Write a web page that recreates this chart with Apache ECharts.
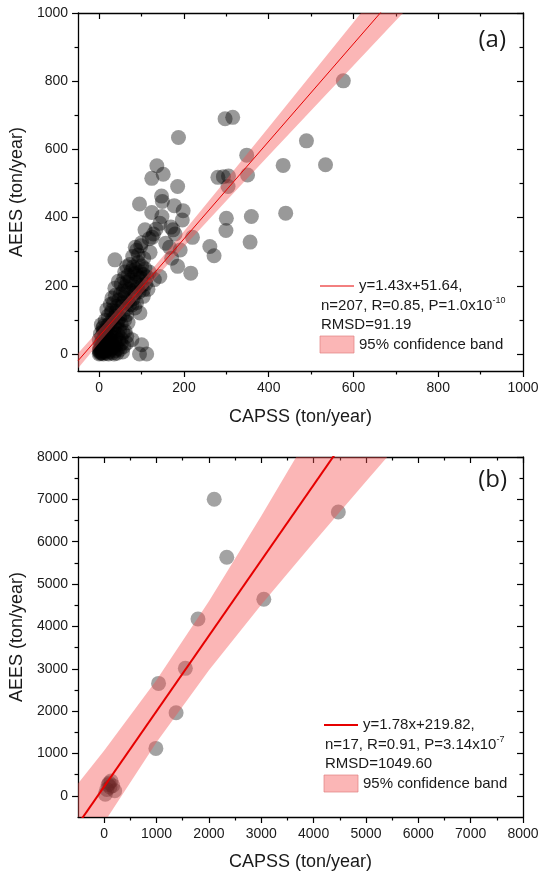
<!DOCTYPE html>
<html><head><meta charset="utf-8">
<script src="https://cdn.jsdelivr.net/npm/echarts@6/dist/echarts.min.js"></script>
<style>html,body{margin:0;padding:0;background:#fff}#c{width:543px;height:874px}</style>
</head><body><div id="c"></div>
<script>
// ---------- Panel (a) data ----------
const capssA = [576,297,315,187,489,348,434,534,136,151,124,185,280,293,305,304,350,147,149,95,177,198,124,148,300,359,440,196,299,356,108,134,169,174,125,157,166,220,261,271,191,171,185,216,120,85,98,37,79,143,130,95,112,100,5,
128,118,143,179,100,88,
72,80,86,92,96,100,104,108,84,76,90,112,118,65,98,
45,52,58,62,66,70,73,78,82,86,90,94,100,104,110,57,68,85,104,115,
30,34,38,42,46,50,53,56,60,64,68,72,77,80,84,88,96,37,26,62,
10,14,18,21,25,28,32,35,37,40,44,48,52,56,60,65,68,20,30,42,
0,3,6,8,11,14,17,20,23,26,30,34,37,40,44,48,52,56,61,77,65,10,28,46,
0,0,1,2,3,4,5,6,7,8,9,10,11,12,13,14,15,16,18,19,20,22,22,24,26,28,30,32,34,36,38,40,42,45,49,52,55,58,65,35,2,6,1,17,
92,105,60];
const aeesA = [801,690,694,635,625,583,553,555,552,527,515,491,518,520,522,491,525,463,447,440,435,420,415,403,398,403,413,393,362,328,364,366,372,364,342,325,313,342,315,288,305,281,257,237,298,313,317,276,286,227,218,0,0,27,86,
352,338,383,352,326,304,
262,255,248,268,240,258,233,250,236,244,228,226,240,256,222,
213,205,222,198,212,190,217,204,186,210,195,182,200,188,206,185,230,178,169,190,
164,150,172,140,158,176,139,150,165,132,155,145,144,162,135,150,120,193,145,178,
81,98,130,112,90,120,104,84,110,125,95,106,88,118,100,115,92,84,128,84,
42,60,52,75,46,66,55,72,44,62,50,66,78,48,58,70,45,62,66,42,52,68,40,40,
0,8,20,13,30,4,18,36,2,25,10,0,32,15,5,22,38,10,28,2,16,0,34,8,22,14,30,4,18,36,10,26,2,16,13,30,6,22,32,0,2,6,10,40,
290,280,240];
const slopeA = 1.43, interceptA = 51.64;
const fitXA = [-50, 720];
const bandXA = [-50, 0, 100, 200, 300, 400, 500, 600, 700, 760];
const bandLowA = [-42, 33, 177, 315, 449, 582, 714, 846, 978, 1056];
const bandHighA = [2, 71, 212, 360, 512, 665, 819, 973, 1127, 1217];
const xMajorA = [0, 200, 400, 600, 800, 1000];
const xMinorA = [100, 300, 500, 700, 900];
const yMajorA = [0, 200, 400, 600, 800, 1000];
const yMinorA = [100, 300, 500, 700, 900];

// ---------- Panel (b) data ----------
const capssB = [2101, 4472, 2341, 3049, 1791, 1550, 1038, 1373, 987, 20, 50, 75, 95, 110, 130, 160, 200];
const aeesB  = [7002, 6702, 5632, 4640, 4174, 3010, 2655, 1961, 1120, 40, 150, 260, 300, 210, 350, 240, 120];
const slopeB = 1.78, interceptB = 219.82;
const fitXB = [-500, 4500];
const bandXB = [-500, 0, 1000, 2000, 3000, 4000, 5000, 5700];
const bandLowB = [-1633, -629, 1266, 2965, 4512, 5984, 7420, 8420];
const bandHighB = [293, 1069, 2734, 4595, 6608, 8696, 10820, 12330];
const xMajorB = [0, 1000, 2000, 3000, 4000, 5000, 6000, 7000, 8000];
const xMinorB = [500, 1500, 2500, 3500, 4500, 5500, 6500, 7500];
const yMajorB = [0, 1000, 2000, 3000, 4000, 5000, 6000, 7000, 8000];
const yMinorB = [500, 1500, 2500, 3500, 4500, 5500, 6500, 7500];

const FONT = '"Liberation Sans", Arial, sans-serif';
const INK = '#1a1a1a';
const RED = '#e60000';
const PINK = 'rgba(245,80,80,0.42)';

function mkAxes(kind, g, min, max, majors, minors, name, gap) {
  const first = kind === 'x' ? 'bottom' : 'left';
  const second = kind === 'x' ? 'top' : 'right';
  const line = { show: true, onZero: false, lineStyle: { color: '#000', width: 1.3 } };
  const base = { type: 'value', gridIndex: g, min: min, max: max, splitLine: { show: false } };
  return [
    Object.assign({}, base, {
      position: first, axisLine: line,
      axisTick: { show: true, inside: false, length: 6, customValues: majors, lineStyle: { color: '#000', width: 1.2 } },
      axisLabel: { show: true, customValues: majors, margin: 10, fontSize: 14, color: INK, fontFamily: FONT,
        formatter: function (v) { return String(v); } },
      name: name, nameLocation: 'middle', nameGap: gap,
      nameTextStyle: { fontSize: 18, color: INK, fontFamily: FONT }
    }),
    Object.assign({}, base, {
      position: first, axisLine: { show: false, onZero: false },
      axisTick: { show: true, inside: false, length: 3.5, customValues: minors, lineStyle: { color: '#000', width: 1.2 } },
      axisLabel: { show: false }
    }),
    Object.assign({}, base, {
      position: second, axisLine: line,
      axisTick: { show: true, inside: true, length: 6, customValues: majors, lineStyle: { color: '#000', width: 1.2 } },
      axisLabel: { show: false }
    }),
    Object.assign({}, base, {
      position: second, axisLine: { show: false, onZero: false },
      axisTick: { show: true, inside: true, length: 3.5, customValues: minors, lineStyle: { color: '#000', width: 1.2 } },
      axisLabel: { show: false }
    })
  ];
}

function bandSeries(xi, yi, bx, lo, hi) {
  return {
    type: 'custom', xAxisIndex: xi, yAxisIndex: yi, silent: true, z: 3,
    data: [[bx[0], lo[0]]],
    renderItem: function (params, api) {
      const pts = [];
      for (let i = 0; i < bx.length; i++) pts.push(api.coord([bx[i], hi[i]]));
      for (let i = bx.length - 1; i >= 0; i--) pts.push(api.coord([bx[i], lo[i]]));
      const cs = params.coordSys;
      return {
        type: 'polygon', shape: { points: pts }, style: { fill: PINK },
        clipPath: { type: 'rect', shape: { x: cs.x, y: cs.y, width: cs.width, height: cs.height } }
      };
    }
  };
}

function legend(x0, y0, eq, stats, rmsd, lw) {
  const dy = 19.5;
  const ts = { font: '15px ' + FONT, fill: INK, verticalAlign: 'middle', textVerticalAlign: 'middle' };
  return [
    { type: 'line', shape: { x1: x0, y1: y0, x2: x0 + 34, y2: y0 }, style: { stroke: RED, lineWidth: lw }, z: 100 },
    { type: 'text', x: x0 + 39, y: y0, style: Object.assign({ text: eq }, ts), z: 100 },
    { type: 'text', x: x0 + 1, y: y0 + dy, style: Object.assign({ text: stats[0] + '{s|' + stats[1] + '}',
        rich: { s: { fontSize: 9, fontFamily: FONT, fill: INK, color: INK, verticalAlign: 'top', padding: [0, 0, 9, 0] } } }, ts), z: 100 },
    { type: 'text', x: x0 + 1, y: y0 + 2 * dy, style: Object.assign({ text: rmsd }, ts), z: 100 },
    { type: 'rect', shape: { x: x0, y: y0 + 3 * dy - 8.5, width: 34, height: 17 },
      style: { fill: PINK, stroke: 'rgba(225,130,130,0.7)', lineWidth: 1 }, z: 100 },
    { type: 'text', x: x0 + 39, y: y0 + 3 * dy, style: Object.assign({ text: '95% confidence band' }, ts), z: 100 }
  ];
}

const chart = echarts.init(document.getElementById('c'), null, { renderer: 'canvas' });
const option = {
  backgroundColor: '#fff',
  animation: false,
  grid: [
    { left: 77, right: 20, top: 13, height: 358 },
    { left: 77, right: 20, top: 457, height: 360 }
  ],
  xAxis: [].concat(
    mkAxes('x', 0, -50, 1000, xMajorA, xMinorA, 'CAPSS (ton/year)', 37),
    mkAxes('x', 1, -500, 8000, xMajorB, xMinorB, 'CAPSS (ton/year)', 36)
  ),
  yAxis: [].concat(
    mkAxes('y', 0, -50, 1000, yMajorA, yMinorA, 'AEES (ton/year)', 48),
    mkAxes('y', 1, -500, 8000, yMajorB, yMinorB, 'AEES (ton/year)', 48)
  ),
  series: [
    { type: 'scatter', xAxisIndex: 0, yAxisIndex: 0, z: 2, symbolSize: 15,
      itemStyle: { color: 'rgba(0,0,0,0.5)' },
      data: capssA.map((x, i) => [x, aeesA[i]]) },
    bandSeries(0, 0, bandXA, bandLowA, bandHighA),
    { type: 'line', xAxisIndex: 0, yAxisIndex: 0, z: 4, symbol: 'none', clip: true,
      lineStyle: { color: RED, width: 1 },
      data: fitXA.map(x => [x, slopeA * x + interceptA]) },

    { type: 'scatter', xAxisIndex: 4, yAxisIndex: 4, z: 2, symbolSize: 15,
      itemStyle: { color: 'rgba(0,0,0,0.45)' },
      data: capssB.map((x, i) => [x, aeesB[i]]) },
    bandSeries(4, 4, bandXB, bandLowB, bandHighB),
    { type: 'line', xAxisIndex: 4, yAxisIndex: 4, z: 4, symbol: 'none', clip: true,
      lineStyle: { color: RED, width: 2 },
      data: fitXB.map(x => [x, slopeB * x + interceptB]) }
  ],
  graphic: [].concat(
    legend(320, 286, 'y=1.43x+51.64,', ['n=207, R=0.85, P=1.0x10', '-10'], 'RMSD=91.19', 1),
    legend(324, 725, 'y=1.78x+219.82,', ['n=17, R=0.91, P=3.14x10', '-7'], 'RMSD=1049.60', 2),
    [
      { type: 'text', x: 506, y: 40, style: { text: '(a)', font: '24px "Open Sans", sans-serif', fill: INK, align: 'right', textAlign: 'right', verticalAlign: 'middle', textVerticalAlign: 'middle' }, z: 100 },
      { type: 'text', x: 507, y: 480, style: { text: '(b)', font: '24px "Open Sans", sans-serif', fill: INK, align: 'right', textAlign: 'right', verticalAlign: 'middle', textVerticalAlign: 'middle' }, z: 100 }
    ]
  )
};
chart.setOption(option);
</script>
</body></html>
